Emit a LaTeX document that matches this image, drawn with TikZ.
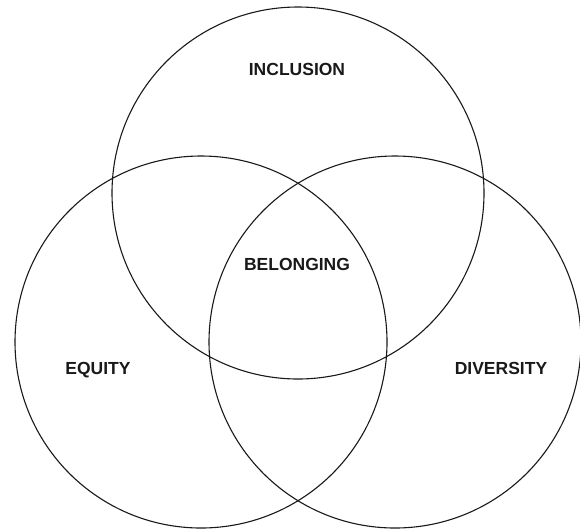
\documentclass[tikz,border=0pt]{standalone}
\usepackage{fontspec}
\setsansfont{Liberation Sans}
\usepackage{tikz}
\usetikzlibrary{positioning}
\definecolor{mydark}{RGB}{25,25,25}
\tikzset{
  ring/.style={draw=mydark, line width=1.1pt},
  label/.style={font=\sffamily\bfseries\fontsize{17.5}{19}\selectfont,
    text=mydark, anchor=base, inner sep=0pt}
}
\begin{document}
\begin{tikzpicture}[x=1pt, y=-1pt]
  % Fix the frame to the reference proportions
  \useasboundingbox (0,0) rectangle (580,528);

  % The three circles
  \draw[ring] (298,193) circle (186);
  \draw[ring] (201,342) circle (186);
  \draw[ring] (395,342) circle (186);

  % Labels
  \node[label] (inclusion) at (297,75) {INCLUSION};
  \node[label] (belonging) at (297,270) {BELONGING};
  \node[label] (equity) at (98,374) {EQUITY};
  \node[label] (diversity) at (501,374) {DIVERSITY};
\end{tikzpicture}
\end{document}
